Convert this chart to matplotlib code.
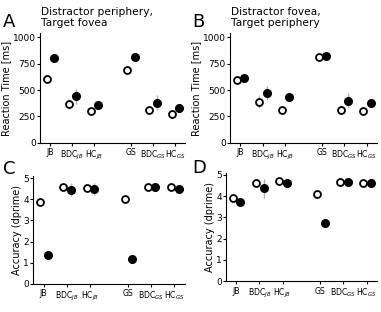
import matplotlib.pyplot as plt

labels = ["JB", "BDC$_{JB}$", "HC$_{JB}$", "GS", "BDC$_{GS}$", "HC$_{GS}$"]
xpos = [0, 1, 2, 3.64, 4.64, 5.64]

# reaction time [ms]
rt_a_open = [605, 370, 300, 690, 310, 278]
rt_a_fill = [800, 440, 362, 810, 380, 326]
rt_a_open_err = [15, 45, 20, 15, 25, 20]
rt_a_fill_err = [15, 70, 30, 15, 70, 25]

rt_b_open = [596, 385, 315, 810, 315, 300]
rt_b_fill = [615, 473, 438, 820, 400, 378]
rt_b_open_err = [15, 55, 20, 15, 40, 20]
rt_b_fill_err = [15, 70, 20, 15, 70, 20]

# accuracy (dprime)
acc_c_open = [3.87, 4.57, 4.52, 4.03, 4.57, 4.57]
acc_c_fill = [1.37, 4.45, 4.49, 1.16, 4.57, 4.50]
acc_c_open_err = [0.05, 0.05, 0.1, 0.05, 0.05, 0.05]
acc_c_fill_err = [0.05, 0.3, 0.3, 0.05, 0.05, 0.15]

acc_d_open = [3.91, 4.64, 4.70, 4.12, 4.65, 4.64]
acc_d_fill = [3.74, 4.38, 4.64, 2.76, 4.65, 4.64]
acc_d_open_err = [0.05, 0.1, 0.05, 0.05, 0.05, 0.05]
acc_d_fill_err = [0.05, 0.45, 0.05, 0.05, 0.1, 0.15]

plt.rcParams['font.family'] = 'DejaVu Sans'
plt.rcParams['mathtext.fontset'] = 'dejavusans'
fig = plt.figure(figsize=(3.81, 3.12), dpi=100)

def Panel(rect, op, fi, op_err, fi_err, ylim, yticks, ylabel):
    ax = fig.add_axes(rect)
    xo = [x - 0.15 for x in xpos]
    xf = [x + 0.18 for x in xpos]
    ax.errorbar(xo, op, yerr=op_err, fmt='none', ecolor='#b0b0b0', elinewidth=1, zorder=1)
    ax.errorbar(xf, fi, yerr=fi_err, fmt='none', ecolor='#b0b0b0', elinewidth=1, zorder=1)
    ax.plot(xo, op, 'o', mfc='white', mec='black', mew=1.3, ms=5, ls='none', zorder=2)
    ax.plot(xf, fi, 'o', mfc='black', mec='black', ms=5.5, ls='none', zorder=2)
    ax.set_xlim(-0.45, 6.1)
    ax.set_ylim(*ylim)
    ax.set_yticks(yticks)
    ax.set_xticks(xpos)
    ax.set_xticklabels(labels, fontsize=5.6)
    ax.tick_params(axis='y', labelsize=6.5, length=2, pad=1)
    ax.tick_params(axis='x', length=2, pad=2)
    ax.set_ylabel(ylabel, fontsize=7, labelpad=1)
    for s in ['top', 'right']:
        ax.spines[s].set_visible(False)
    for s in ['left', 'bottom']:
        ax.spines[s].set_linewidth(0.8)
    return ax

Panel([0.105, 0.542, 0.381, 0.352], rt_a_open, rt_a_fill, rt_a_open_err, rt_a_fill_err,
      (0, 1040), [0, 250, 500, 750, 1000], "Reaction Time [ms]")
Panel([0.604, 0.542, 0.386, 0.352], rt_b_open, rt_b_fill, rt_b_open_err, rt_b_fill_err,
      (0, 1040), [0, 250, 500, 750, 1000], "Reaction Time [ms]")
Panel([0.087, 0.09, 0.399, 0.346], acc_c_open, acc_c_fill, acc_c_open_err, acc_c_fill_err,
      (0, 5.1), [0, 1, 2, 3, 4, 5], "Accuracy (dprime)")
Panel([0.593, 0.099, 0.397, 0.347], acc_d_open, acc_d_fill, acc_d_open_err, acc_d_fill_err,
      (0, 5.1), [0, 1, 2, 3, 4, 5], "Accuracy (dprime)")

fig.text(0.008, 0.912, "A", fontsize=13)
fig.text(0.505, 0.912, "B", fontsize=13)
fig.text(0.008, 0.442, "C", fontsize=13)
fig.text(0.505, 0.445, "D", fontsize=13)
fig.text(0.108, 0.978, "Distractor periphery,\nTarget fovea", fontsize=7.7, va='top', linespacing=1.2)
fig.text(0.605, 0.978, "Distractor fovea,\nTarget periphery", fontsize=7.7, va='top', linespacing=1.2)

fig.savefig("out.png", dpi=100)
